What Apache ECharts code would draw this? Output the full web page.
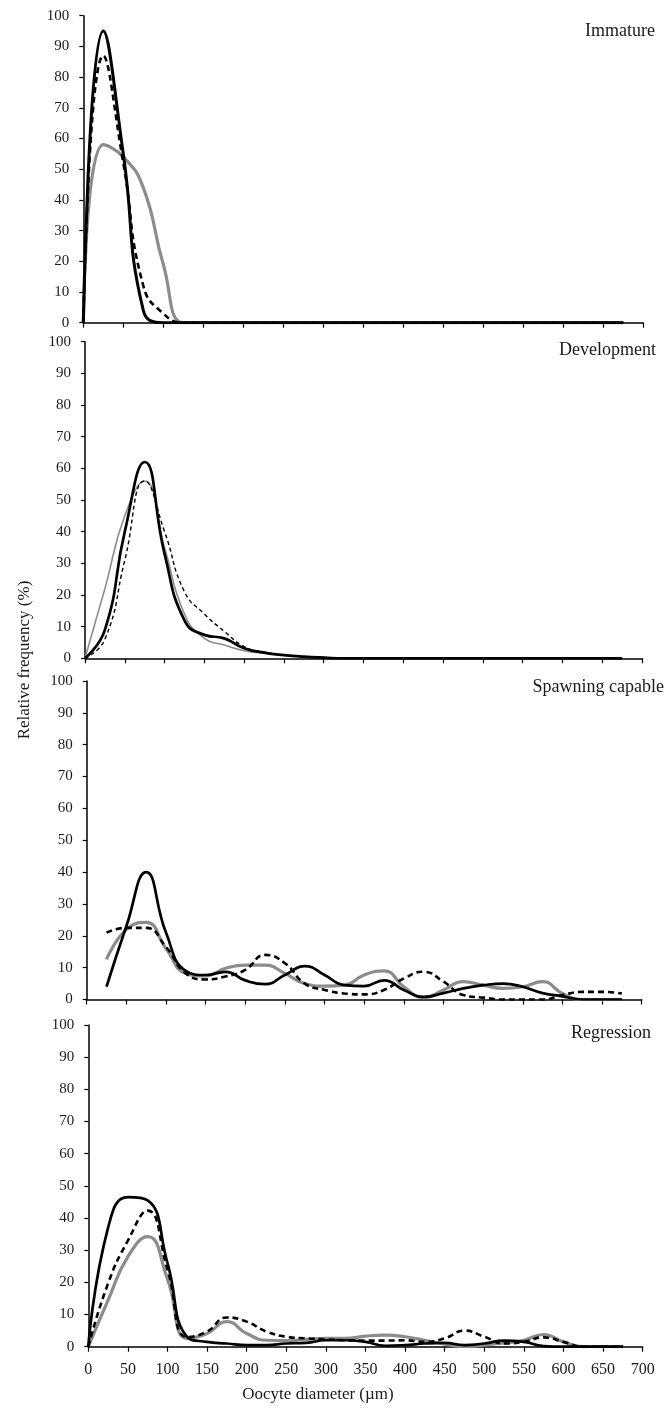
<!DOCTYPE html>
<html>
<head>
<meta charset="utf-8">
<script src="https://cdn.jsdelivr.net/npm/echarts@6/dist/echarts.min.js"></script>
<style>
  html, body { margin: 0; padding: 0; background: #fff; }
  #chart { width: 667px; height: 1409px; }
</style>
</head>
<body>
<div id="chart"></div>
<script>
// oocyte diameter (um) sampled every 25
const xFull = [0, 25, 50, 75, 100, 125, 150, 175, 200, 225, 250, 275, 300, 325, 350,
  375, 400, 425, 450, 475, 500, 525, 550, 575, 600, 625, 650, 675];
const xSpawn = xFull.slice(1);

const panelNames = ['Immature', 'Development', 'Spawning capable', 'Regression'];

// Immature
const immBlack = [0, 95, 55, 4, 0, 0, 0, 0, 0, 0, 0, 0, 0, 0, 0, 0, 0, 0, 0, 0, 0, 0, 0, 0, 0, 0, 0, 0];
const immDash  = [0, 87, 52, 12, 3, 0, 0, 0, 0, 0, 0, 0, 0, 0, 0, 0, 0, 0, 0, 0, 0, 0, 0, 0, 0, 0, 0, 0];
const immGray  = [0, 58, 54, 44, 19, 0, 0, 0, 0, 0, 0, 0, 0, 0, 0, 0, 0, 0, 0, 0, 0, 0, 0, 0, 0, 0, 0, 0];

// Development
const devBlack = [0, 9, 40, 62, 33, 12, 7.4, 6.3, 3.2, 1.8, 1, 0.5, 0.2, 0, 0, 0, 0, 0, 0, 0, 0, 0, 0, 0, 0, 0, 0, 0];
const devDash  = [0, 6, 31, 56, 40, 21, 14, 8.5, 3.7, 2, 1, 0.5, 0.2, 0, 0, 0, 0, 0, 0, 0, 0, 0, 0, 0, 0, 0, 0, 0];
const devGray  = [0, 22, 45, 56, 35, 14, 6.3, 4.2, 2.4, 1.6, 1, 0.5, 0.3, 0, 0, 0, 0, 0, 0, 0, 0, 0, 0, 0, 0, 0, 0, 0];

// Spawning capable (starts at 25)
const spaBlack = [4, 23, 40, 21, 9, 7.7, 8.7, 6, 4.8, 7.7, 10.5, 7.7, 4.5, 4.2, 6, 3, 0.8, 2, 3.5, 4.5, 5, 4, 2, 1, 0, 0, 0];
const spaDash  = [21, 22.5, 22.5, 16.5, 8.2, 6.3, 7.2, 9.3, 14, 11.4, 5, 3, 1.9, 1.6, 3, 6.6, 8.7, 5.6, 1.4, 0.6, 0, 0, 0, 1.4, 2.4, 2.4, 1.9];
const spaGray  = [12.6, 22, 24.2, 16, 8.2, 7.4, 9.8, 10.8, 10.8, 8.2, 5, 4.2, 4.5, 7.7, 9, 4, 0.6, 3, 5.6, 4.5, 3.5, 4, 5.6, 1.9, 0, 0, 0];

// Regression
const regBlack = [0, 37, 46.5, 45.5, 26, 3, 1.5, 1, 0.5, 0.5, 1, 1.2, 2, 2, 1.5, 0.3, 0.5, 1, 1.2, 0.5, 1, 1.9, 1.5, 0.2, 0, 0, 0, 0];
const regDash  = [0, 19.7, 33, 42.3, 24, 3, 4.7, 9.1, 7.8, 4.7, 3.1, 2.6, 2.3, 2, 1.9, 1.9, 2, 1.5, 2.6, 5, 3.1, 1, 1.5, 2.9, 1.5, 0, 0, 0];
const regGray  = [0, 14.5, 28, 34.2, 21, 2.6, 4.1, 7.8, 4.1, 2, 1.9, 2.3, 2.6, 2.6, 3.3, 3.6, 3.1, 2, 0.8, 0, 0.5, 1.2, 2, 3.8, 1.5, 0, 0, 0];

const panels = [
  { xs: xFull,  black: immBlack, dash: immDash, gray: immGray, grid: { left: 83.3, top: 15.7, width: 560, height: 307 }, thin: false },
  { xs: xFull,  black: devBlack, dash: devDash, gray: devGray, grid: { left: 85, top: 341.7, width: 557, height: 316.6 }, thin: true },
  { xs: xSpawn, black: spaBlack, dash: spaDash, gray: spaGray, grid: { left: 86.7, top: 681, width: 555, height: 318.5 }, thin: false },
  { xs: xFull,  black: regBlack, dash: regDash, gray: regGray, grid: { left: 88.3, top: 1025, width: 554.4, height: 321.7 }, thin: false }
];

const FONT = "'Liberation Serif', 'Times New Roman', serif";
const pair = (xs, ys) => xs.map((x, i) => [x, ys[i]]);

const grids = [], xAxes = [], yAxes = [], series = [];
panels.forEach((p, i) => {
  grids.push(Object.assign({ outerBoundsMode: 'none' }, p.grid));
  xAxes.push({
    type: 'value', gridIndex: i, min: 0, max: 700, interval: 50,
    axisLine: { lineStyle: { color: '#000', width: 1.5 } },
    axisTick: { show: true, inside: false, length: 5, lineStyle: { color: '#000', width: 1.2 } },
    axisLabel: { show: i === 3, margin: 15, fontFamily: FONT, fontSize: 16, color: '#1a1a1a' },
    splitLine: { show: false }
  });
  yAxes.push({
    type: 'value', gridIndex: i, min: 0, max: 100, interval: 10,
    axisLine: { show: true, lineStyle: { color: '#000', width: 1.5 } },
    axisTick: { show: true, inside: false, length: 4, lineStyle: { color: '#000', width: 1.2 } },
    axisLabel: { margin: 14, fontFamily: FONT, fontSize: 15, color: '#1a1a1a' },
    splitLine: { show: false }
  });
  const common = { type: 'line', xAxisIndex: i, yAxisIndex: i, smooth: 0.5, showSymbol: false, silent: true };
  series.push(Object.assign({}, common, {
    name: 'gray' + i, data: pair(p.xs, p.gray),
    lineStyle: { color: '#8c8c8c', width: p.thin ? 1.6 : 3.2 }
  }));
  series.push(Object.assign({}, common, {
    name: 'dash' + i, data: pair(p.xs, p.dash),
    lineStyle: { color: '#000', width: p.thin ? 1.4 : 2.6, type: p.thin ? [4, 3] : [6, 4] }
  }));
  series.push(Object.assign({}, common, {
    name: 'black' + i, data: pair(p.xs, p.black),
    lineStyle: { color: '#000', width: i === 0 ? 3 : 2.7 }
  }));
});

const titlePos = [[655, 31], [656, 350], [664, 687], [651, 1033]];
const graphic = panelNames.map((t, i) => ({
  type: 'text', x: titlePos[i][0], y: titlePos[i][1],
  style: { text: t, font: '18px ' + FONT, fill: '#1a1a1a', align: 'right', verticalAlign: 'middle' }
}));
graphic.push({
  type: 'text', x: 25, y: 660, rotation: Math.PI / 2,
  style: { text: 'Relative frequency (%)', font: '17px ' + FONT, fill: '#1a1a1a', align: 'center', verticalAlign: 'middle' }
});
graphic.push({
  type: 'text', x: 318, y: 1395,
  style: { text: 'Oocyte diameter (µm)', font: '17px ' + FONT, fill: '#1a1a1a', align: 'center', verticalAlign: 'middle' }
});

const chart = echarts.init(document.getElementById('chart'), null, { renderer: 'canvas' });
chart.setOption({
  animation: false,
  backgroundColor: '#fff',
  grid: grids,
  xAxis: xAxes,
  yAxis: yAxes,
  series: series,
  graphic: graphic
});
</script>
</body>
</html>
